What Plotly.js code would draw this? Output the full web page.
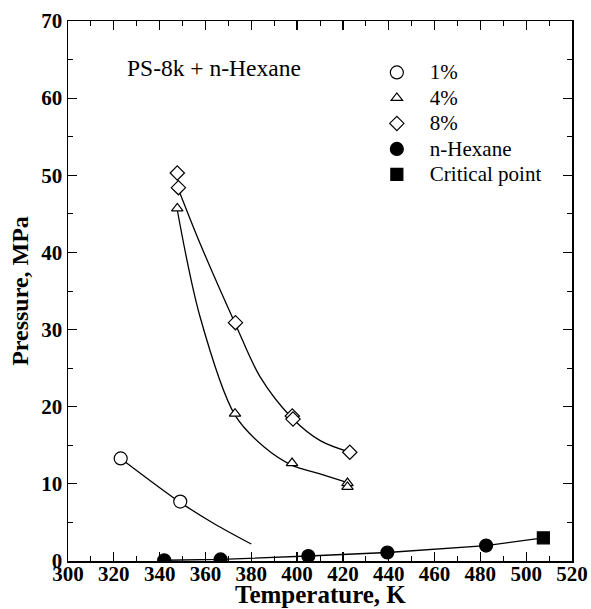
<!DOCTYPE html>
<html>
<head>
<meta charset="utf-8">
<script src="https://cdn.plot.ly/plotly-3.0.1.min.js"></script>
<style>html,body{margin:0;padding:0;background:#fff;}#chart{width:591px;height:609px;}</style>
</head>
<body>
<div id="chart"></div>
<script>
// Measured data points
var pct1T = [323.0, 349.0];
var pct1P = [13.3, 7.7];
var pct4T = [347.7, 372.9, 397.8, 422.0, 422.0];
var pct4P = [45.7, 19.1, 12.7, 10.1, 9.6];
var pct8T = [347.7, 348.2, 373.1, 397.9, 398.2, 423.0];
var pct8P = [50.3, 48.4, 30.9, 18.8, 18.4, 14.1];
var hexT = [342.0, 366.6, 404.9, 439.4, 482.5];
var hexP = [0.1, 0.2, 0.65, 1.1, 2.0];
var critT = [507.5];
var critP = [3.0];

// Smooth fitted curves as drawn in the figure
var fit1T = [323.0, 349.0, 364.0, 380.0];
var fit1P = [13.3, 7.6, 4.8, 2.2];
var fit4T = [347.7, 357.6, 372.9, 385.5, 397.8, 410.0, 421.7];
var fit4P = [45.5, 31.7, 18.9, 14.8, 12.4, 11.3, 10.2];
var fit8T = [348.2, 357.6, 373.1, 383.8, 397.9, 410.1, 423.0];
var fit8P = [48.2, 41.2, 30.7, 23.9, 18.5, 15.6, 14.1];
var vapT = [342.0, 366.6, 404.9, 439.4, 482.5, 507.5];
var vapP = [0.1, 0.2, 0.65, 1.1, 2.0, 3.0];

var xTicks = [300, 320, 340, 360, 380, 400, 420, 440, 460, 480, 500, 520];
var yTicks = [0, 10, 20, 30, 40, 50, 60, 70];
var seriesNames = ['1%', '4%', '8%', 'n-Hexane', 'Critical point'];

var serif = 'Liberation Serif, Times New Roman, serif';

function big(s) { return '<span style="font-size:21px">' + s + '</span>'; }

function fitTrace(x, y, shape) {
  return {x: x, y: y, mode: 'lines', type: 'scatter', showlegend: false, hoverinfo: 'skip',
    line: {color: '#000', width: 1.3, shape: shape || 'spline', smoothing: 0.9}};
}
function markTrace(x, y, name, symbol, size, filled) {
  return {x: x, y: y, mode: 'markers', type: 'scatter', name: big(name),
    marker: {symbol: symbol, size: size, color: filled ? '#000' : '#fff',
      line: {color: '#000', width: 1.2}}};
}

var traces = [
  fitTrace(fit1T, fit1P),
  fitTrace(fit4T, fit4P),
  fitTrace(fit8T, fit8P),
  fitTrace(vapT, vapP, 'linear'),
  markTrace(pct1T, pct1P, seriesNames[0], 'circle', 13, false),
  markTrace(pct4T, pct4P, seriesNames[1], 'triangle-up', 10, false),
  markTrace(pct8T, pct8P, seriesNames[2], 'diamond', 11, false),
  markTrace(hexT, hexP, seriesNames[3], 'circle', 13, true),
  markTrace(critT, critP, seriesNames[4], 'square', 12, true)
];

var layout = {
  width: 591, height: 609,
  margin: {l: 68, r: 19, t: 21, b: 48},
  paper_bgcolor: '#fff', plot_bgcolor: '#fff',
  showlegend: true,
  xaxis: {
    range: [300, 520], tickmode: 'array', tickvals: xTicks,
    ticktext: xTicks.map(function (v) { return '<b>' + v + '</b>'; }),
    showline: true, linecolor: '#000', linewidth: 1.5, mirror: 'allticks',
    ticks: 'inside', ticklen: 9, tickwidth: 1.2, tickcolor: '#000',
    showgrid: false, zeroline: false,
    tickfont: {family: serif, size: 21, color: '#000', weight: 'bold'},
    ticklabelstandoff: -7,
    minor: {dtick: 10, ticklen: 5, tickwidth: 1, tickcolor: '#000', ticks: 'inside'}
  },
  yaxis: {
    range: [0, 70], tickmode: 'array', tickvals: yTicks,
    ticktext: yTicks.map(function (v) { return '<b>' + v + '</b>'; }),
    showline: true, linecolor: '#000', linewidth: 1.5, mirror: 'allticks',
    ticks: 'inside', ticklen: 9, tickwidth: 1.2, tickcolor: '#000',
    showgrid: false, zeroline: false,
    tickfont: {family: serif, size: 21, color: '#000', weight: 'bold'},
    minor: {dtick: 5, ticklen: 5, tickwidth: 1, tickcolor: '#000', ticks: 'inside'},
    title: {text: '<b>Pressure, MPa</b>', standoff: 6, font: {family: serif, size: 24, color: '#000'}}
  },
  legend: {
    x: 0.587, y: 0.9376, xanchor: 'left', yanchor: 'top',
    bgcolor: 'rgba(0,0,0,0)', borderwidth: 0, itemwidth: 56,
    font: {family: serif, size: 17.3, color: '#000'},
    tracegroupgap: 0
  },
  annotations: [{
    text: 'PS-8k + n-Hexane', xref: 'paper', yref: 'paper',
    x: 0.113, y: 0.913, xanchor: 'left', yanchor: 'middle', showarrow: false,
    font: {family: serif, size: 23.5, color: '#000'}
  }, {
    text: '<b>Temperature, K</b>', xref: 'paper', yref: 'paper',
    x: 0.5, y: -0.0889, xanchor: 'center', yanchor: 'bottom', showarrow: false,
    borderpad: 0,
    font: {family: serif, size: 25, color: '#000'}
  }]
};

Plotly.newPlot('chart', traces, layout, {displayModeBar: false, staticPlot: true});
</script>
</body>
</html>
